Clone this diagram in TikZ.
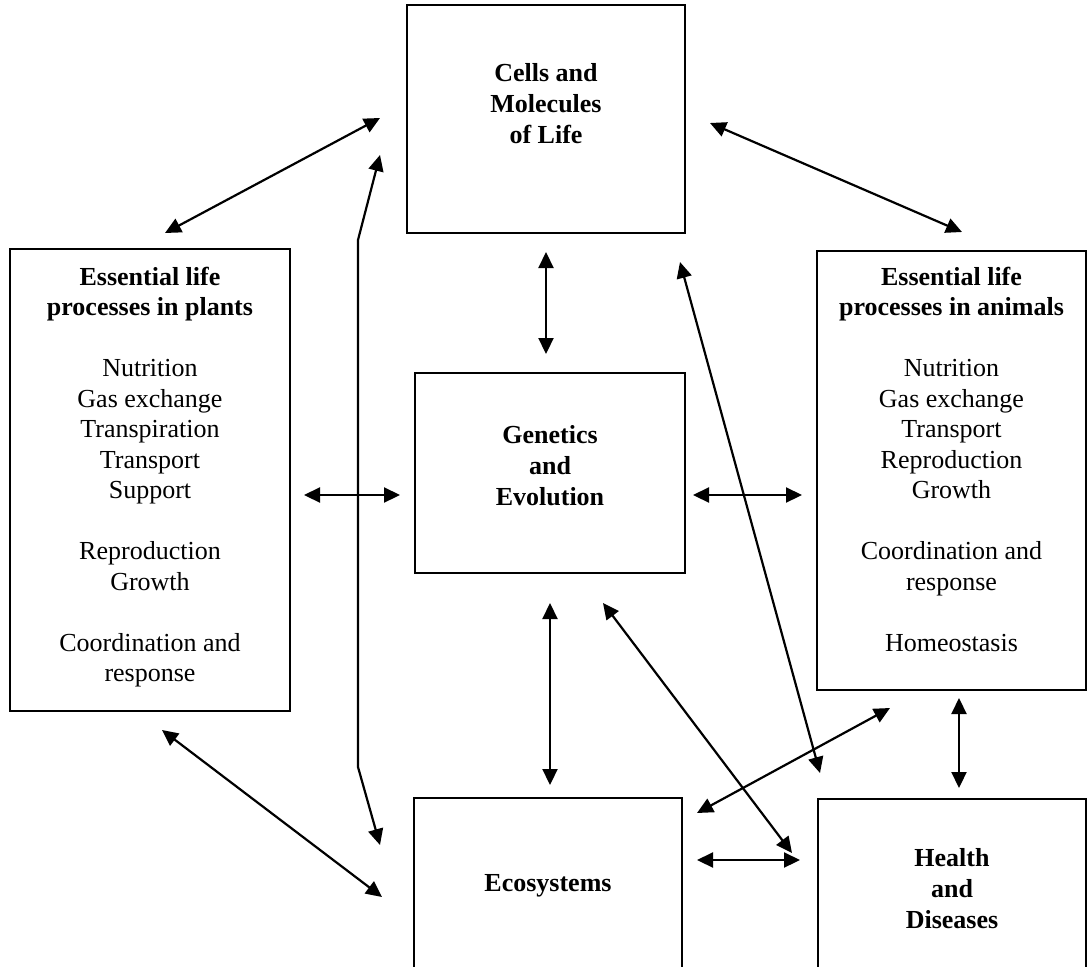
\documentclass[tikz,border=0pt]{standalone}
\usepackage{fontspec}
\setmainfont{Liberation Serif}
\usetikzlibrary{arrows.meta}
\begin{document}
\begin{tikzpicture}[x=1pt,y=-1pt,
  box/.style={draw, line width=1.5pt, inner sep=0pt},
  txt/.style={anchor=base, align=center, inner sep=0pt, font=\fontsize{26}{30.5}\selectfont},
  ttl/.style={anchor=base, align=center, inner sep=0pt, font=\fontsize{26}{31}\selectfont\bfseries},
  arr/.style={{Triangle[length=16pt,width=15pt]}-{Triangle[length=16pt,width=15pt]}, line width=2.2pt}]
\useasboundingbox (0,0) rectangle (1088,967);
\clip (0,0) rectangle (1088,967);
\fill[white] (0,0) rectangle (1088,967);
% boxes
\node[box, minimum width=278pt, minimum height=228pt] (cells) at (546,119) {};
\node[box, minimum width=280pt, minimum height=462pt] (plants) at (150,480) {};
\node[box, minimum width=270pt, minimum height=200pt] (gen) at (550,473) {};
\node[box, minimum width=269pt, minimum height=439pt] (animals) at (951.5,470.5) {};
\node[box, minimum width=268pt, minimum height=177pt] (eco) at (548,886.5) {};
\node[box, minimum width=268pt, minimum height=176pt] (health) at (952,887) {};
% texts (anchor base = baseline of last line)
\node[ttl] (cellsT) at (546,143) {Cells and\\Molecules\\of Life};
\node[txt] (plantsT) at (150,681.5) {\textbf{Essential life}\\\textbf{processes in plants}\\[30.5pt]Nutrition\\Gas exchange\\Transpiration\\Transport\\Support\\[30.5pt]Reproduction\\Growth\\[30.5pt]Coordination and\\response};
\node[txt] (animalsT) at (951.5,651) {\textbf{Essential life}\\\textbf{processes in animals}\\[30.5pt]Nutrition\\Gas exchange\\Transport\\Reproduction\\Growth\\[30.5pt]Coordination and\\response\\[30.5pt]Homeostasis};
\node[ttl] (genT) at (550,505) {Genetics\\and\\Evolution};
\node[ttl] (ecoT) at (548,891) {Ecosystems};
\node[ttl] (healthT) at (952,928) {Health\\and\\Diseases};
% arrow end points
\coordinate (a1s) at (380,118);  \coordinate (a1e) at (165,233);
\coordinate (a2s) at (380,155);  \coordinate (a2b) at (358,240);
\coordinate (a2c) at (358,767);  \coordinate (a2e) at (380,845);
\coordinate (a3s) at (710,123);  \coordinate (a3e) at (962,232);
\coordinate (a4s) at (546,252);  \coordinate (a4e) at (546,354);
\coordinate (a5s) at (304,495);  \coordinate (a5e) at (400,495);
\coordinate (a6s) at (693,495);  \coordinate (a6e) at (802,495);
\coordinate (a7s) at (680,262);  \coordinate (a7e) at (820,773);
\coordinate (a8s) at (550,603);  \coordinate (a8e) at (550,785);
\coordinate (a9s) at (603,603);  \coordinate (a9e) at (792,853);
\coordinate (a10s) at (890,708); \coordinate (a10e) at (697,813);
\coordinate (a11s) at (959,698); \coordinate (a11e) at (959,788);
\coordinate (a12s) at (162,730); \coordinate (a12e) at (382,897);
\coordinate (a13s) at (697,860); \coordinate (a13e) at (800,860);
% arrows
\draw[arr] (a1s) -- (a1e);
\draw[arr] (a2s) -- (a2b) -- (a2c) -- (a2e);
\draw[arr] (a3s) -- (a3e);
\draw[arr] (a4s) -- (a4e);
\draw[arr] (a5s) -- (a5e);
\draw[arr] (a6s) -- (a6e);
\draw[arr] (a7s) -- (a7e);
\draw[arr] (a8s) -- (a8e);
\draw[arr] (a9s) -- (a9e);
\draw[arr] (a10s) -- (a10e);
\draw[arr] (a11s) -- (a11e);
\draw[arr] (a12s) -- (a12e);
\draw[arr] (a13s) -- (a13e);
\end{tikzpicture}
\end{document}
